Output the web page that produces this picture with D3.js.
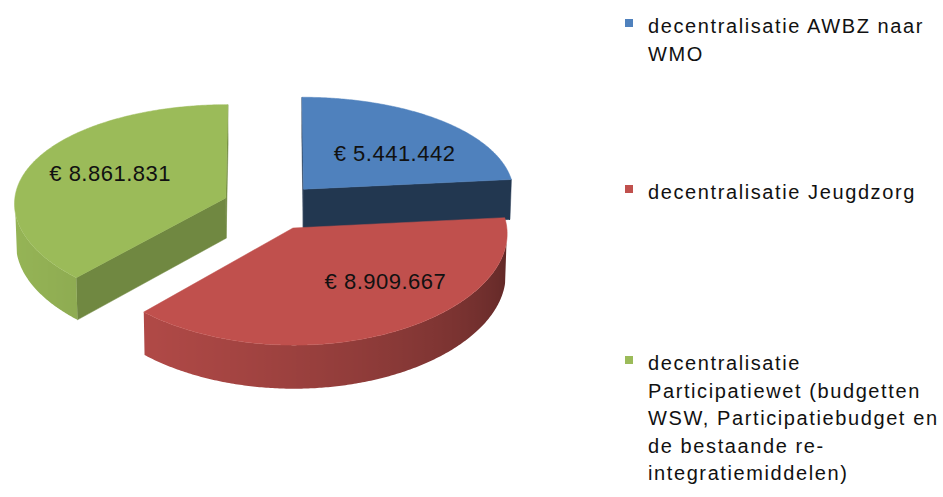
<!DOCTYPE html>
<html lang="nl">
<head>
<meta charset="utf-8">
<script src="https://d3js.org/d3.v7.min.js"></script>
<style>
    body { margin: 0; background: #fff; }
    svg { display: block; }
    text { font-family: "Liberation Sans", Arial, sans-serif; fill: #111; }
</style>
</head>
<body>
<svg id="chart" width="943" height="497"></svg>
<script>
// ---- data ----
const categories = [
    "decentralisatie AWBZ naar WMO",
    "decentralisatie Jeugdzorg",
    "decentralisatie Participatiewet (budgetten WSW, Participatiebudget en de bestaande re-integratiemiddelen)"
];
const legendLines = [
    ["decentralisatie AWBZ naar", "WMO"],
    ["decentralisatie Jeugdzorg"],
    ["decentralisatie", "Participatiewet (budgetten", "WSW, Participatiebudget en", "de bestaande re-", "integratiemiddelen)"]
];
const values = [5441442, 8909667, 8861831];
const colors = ["#4F81BD", "#C0504D", "#9BBB59"];

// dutch euro format -> "€ 5.441.442"
const nl = d3.formatLocale({decimal: ",", thousands: ".", grouping: [3], currency: ["€ ", ""]});
const fmt = nl.format("$,");

// ---- 3d setup ----
const svg = d3.select("#chart");
const cam = {dist: 10, tilt: 30 * Math.PI / 180, focal: 2105, ox: 271, oy: 247, xPersp: 0.55};
const depth = 0.22, explode = 0.23;
const ct = Math.cos(cam.tilt), st = Math.sin(cam.tilt);
const camPos = [0, cam.dist * st, -cam.dist * ct];
const cutDark = [2.4, 1.2, 0.9];   // darkness of the cut faces
const labelAt = [{a: 50, r: 0.58}, {a: 139, r: 0.64}, {a: 294, r: 0.61}];

function project(p) {
    const z = p[2] * ct - p[1] * st;
    const d = cam.dist + z;
    const dx = cam.dist + cam.xPersp * z;
    const v = p[1] * ct + p[2] * st;
    return [cam.ox + cam.focal * p[0] / dx, cam.oy - cam.focal * v / d];
}
function camDist(p) {
    return Math.hypot(p[0] - camPos[0], p[1] - camPos[1], p[2] - camPos[2]);
}
function facing(nAng, p) {
    const n = [Math.sin(nAng), 0, Math.cos(nAng)];
    return n[0] * (camPos[0] - p[0]) + n[2] * (camPos[2] - p[2]) > 0;
}

const pie = d3.pie().sort(null).value(d => d);
const arcs = pie(values);
const line = d3.line();
const defs = svg.append("defs");

const slices = arcs.map((a, i) => {
    const mid = (a.startAngle + a.endAngle) / 2;
    const cx = explode * Math.sin(mid), cz = explode * Math.cos(mid);
    const pt = (t, r, y) => [cx + r * Math.sin(t), y, cz + r * Math.cos(t)];
    const n = Math.ceil((a.endAngle - a.startAngle) / 0.01);
    const ts = d3.range(n + 1).map(k => a.startAngle + (a.endAngle - a.startAngle) * k / n);
    const base = d3.color(colors[i]);
    const faces = [];

    // outer wall: one polygon over the visible angles, shaded with a gradient
    const vis = ts.filter(t => facing(t, pt(t, 1, depth / 2)));
    if (vis.length > 1) {
        const topE = vis.map(t => project(pt(t, 1, depth)));
        const botE = vis.map(t => project(pt(t, 1, 0)));
        const xs = topE.map(p => p[0]);
        const x0 = d3.min(xs), x1 = d3.max(xs);
        const gid = "wall" + i;
        const grad = defs.append("linearGradient").attr("id", gid)
            .attr("gradientUnits", "userSpaceOnUse")
            .attr("x1", x0).attr("x2", x1).attr("y1", 0).attr("y2", 0);
        const stops = vis.map((t, k) => {
            const deg = (t * 180 / Math.PI) % 360;
            const s = Math.min(1, Math.max(0, (270 - deg) / 180));
            return {o: (xs[k] - x0) / (x1 - x0 || 1), c: base.darker(0.1 + 2.0 * s * s).formatHex()};
        }).sort((p, q) => p.o - q.o);
        grad.selectAll("stop").data(stops).join("stop")
            .attr("offset", s => s.o).attr("stop-color", s => s.c);
        const mt = vis[Math.floor(vis.length / 2)];
        faces.push({screen: topE.concat(botE.reverse()), fill: `url(#${gid})`, d: camDist(pt(mt, 1, depth / 2))});
    }
    // cut faces
    [[a.startAngle, a.startAngle - Math.PI / 2], [a.endAngle, a.endAngle + Math.PI / 2]].forEach(([t, nA]) => {
        const c = pt(t, 0.5, depth / 2);
        if (!facing(nA, c)) return;
        const col = base.darker(cutDark[i]).formatHex();
        faces.push({screen: [pt(t, 0, 0), pt(t, 1, 0), pt(t, 1, depth), pt(t, 0, depth)].map(project),
            fill: col, stroke: col, d: camDist(c)});
    });
    faces.sort((p, q) => q.d - p.d);
    // top
    const top = [pt(0, 0, depth)].concat(ts.map(t => pt(t, 1, depth)));
    faces.push({screen: top.map(project), fill: base.formatHex(), stroke: base.formatHex(), d: 0});

    const la = labelAt[i].a * Math.PI / 180;
    return {i, cz, faces, label: project(pt(la, labelAt[i].r, depth)), text: fmt(values[i])};
});

slices.sort((p, q) => q.cz - p.cz);

const g = svg.append("g");
slices.forEach(s => {
    g.append("g").selectAll("path")
        .data(s.faces)
        .join("path")
        .attr("d", f => line(f.screen) + "Z")
        .attr("fill", f => f.fill)
        .attr("stroke", f => f.stroke || "none")
        .attr("stroke-width", 0.5)
        .attr("stroke-linejoin", "round");
});

g.selectAll("text.lbl")
    .data(slices)
    .join("text")
    .attr("class", "lbl")
    .attr("x", s => s.label[0])
    .attr("y", s => s.label[1])
    .attr("text-anchor", "middle")
    .attr("dominant-baseline", "central")
    .style("font-size", "22px")
    .style("letter-spacing", "0.5px")
    .text(s => s.text);

// ---- legend ----
const legendY = [33, 199, 370];
const lg = svg.append("g");
legendLines.forEach((lines, i) => {
    lg.append("rect")
        .attr("x", 625).attr("y", legendY[i] - 14)
        .attr("width", 8).attr("height", 8)
        .attr("fill", colors[i]);
    const t = lg.append("text")
        .attr("x", 648).attr("y", legendY[i])
        .style("font-size", "20px")
        .style("letter-spacing", "1.6px");
    t.append("title").text(categories[i]);
    lines.forEach((l, k) => {
        t.append("tspan").attr("x", 648).attr("dy", k ? 27.5 : 0).text(l);
    });
});
</script>
</body>
</html>
